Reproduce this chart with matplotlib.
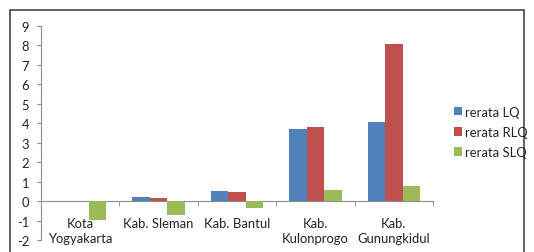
import matplotlib
matplotlib.use("Agg")
import matplotlib.pyplot as plt
import numpy as np
from matplotlib.patches import Rectangle, Patch

categories = ["Kota\nYogyakarta", "Kab. Sleman", "Kab. Bantul", "Kab.\nKulonprogo", "Kab.\nGunungkidul"]
series_names = ["rerata LQ", "rerata RLQ", "rerata SLQ"]
lq = [0.0, 0.23, 0.54, 3.71, 4.09]
rlq = [0.0, 0.15, 0.46, 3.81, 8.08]
slq = [-0.98, -0.72, -0.34, 0.58, 0.79]
colors = ["#4F81BD", "#C0504D", "#9BBB59"]
yticks = list(range(-2, 10))

plt.rcParams['font.family'] = ['Lato', 'DejaVu Sans']

W, H = 534, 253
fs = 9.4
fig = plt.figure(figsize=(W/100, H/100), dpi=100)
fig.patch.set_facecolor('white')

ax = fig.add_axes([41/W, 1-241/H, (433-41)/W, (241-27)/H])
x = np.arange(len(categories))
w = 1/4.5
for i, (vals, c) in enumerate(zip([lq, rlq, slq], colors)):
    ax.bar(x + (i-1)*w, vals, width=w, color=c, edgecolor='none', zorder=2)

ax.set_xlim(-0.5, len(categories)-0.5)
ax.set_ylim(-2, 9)
ax.set_yticks(yticks)
ax.set_yticklabels([str(t) for t in yticks])

for s in ['top', 'right']:
    ax.spines[s].set_visible(False)
ax.spines['bottom'].set_position(('data', 0))
ax.spines['bottom'].set_color('#8c8c8c')
ax.spines['left'].set_color('#8c8c8c')
ax.spines['bottom'].set_zorder(1)

ax.set_xticks(x)
ax.set_xticklabels(categories, fontsize=fs, color='#222222', linespacing=1.3)
ax.set_xticks(np.arange(len(categories)+1)-0.5, minor=True)
ax.tick_params(axis='x', which='major', length=0, pad=11.5)
ax.tick_params(axis='x', which='minor', length=3.5, color='#8c8c8c', direction='out')
ax.tick_params(axis='y', length=3, color='#8c8c8c', labelsize=fs, labelcolor='#222222', pad=5.5)

handles = [Patch(facecolor=c, edgecolor='none') for c in colors]
fig.legend(handles, series_names, loc='center left', bbox_to_anchor=(454/W, 1-133/H),
           frameon=False, fontsize=fs, handlelength=0.6, handleheight=0.6,
           handletextpad=0.25, labelspacing=0.62, borderpad=0, borderaxespad=0,
           labelcolor='#222222')

fig.patches.append(Rectangle((10/W, -0.2), (W-10.5)/W - 10/W, 1.2 - 11/H,
                             transform=fig.transFigure, fill=False,
                             edgecolor='#555555', linewidth=1.3, clip_on=False))

fig.savefig("out.png", dpi=100)
